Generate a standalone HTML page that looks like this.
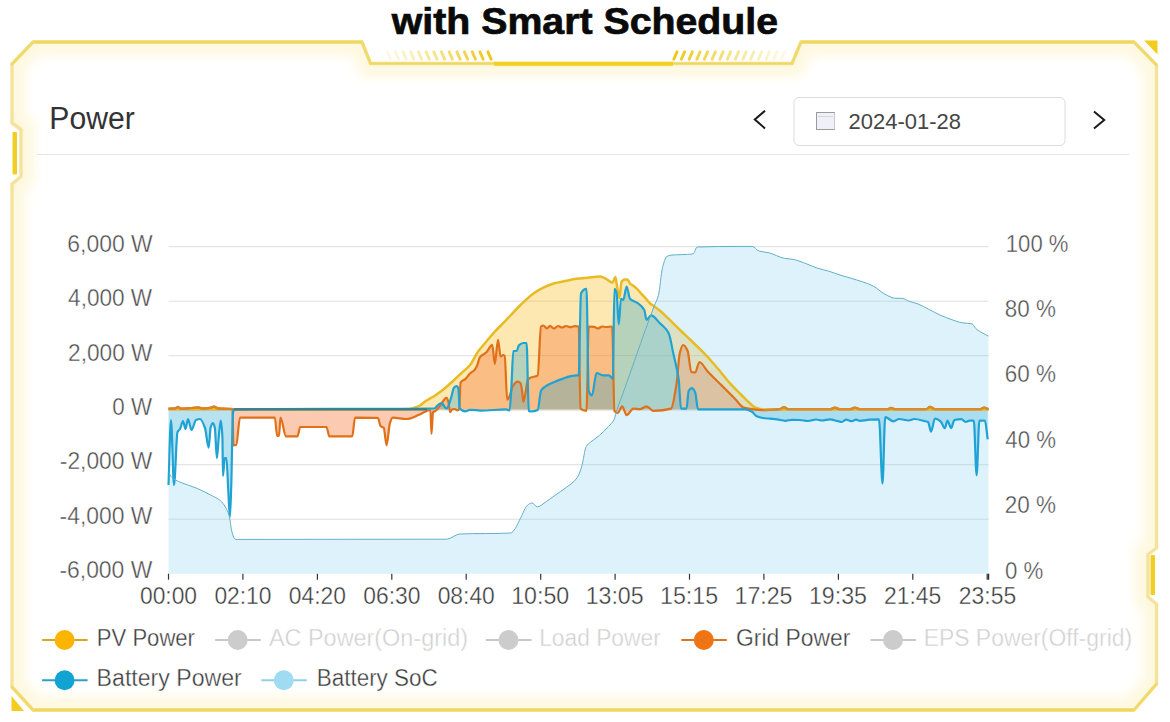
<!DOCTYPE html>
<html><head><meta charset="utf-8"><title>Power</title><style>
html,body{margin:0;padding:0;background:#fff;width:1170px;height:722px;overflow:hidden}
svg{display:block}
text{font-family:"Liberation Sans",sans-serif}
</style></head><body>
<svg width="1170" height="722" viewBox="0 0 1170 722">
<defs>
<clipPath id="fc"><path d="M33,42 L362,42 L370.5,63.5 L792,63.5 L801,42 L1134,42 L1156.5,65 L1156.5,548 L1148,554.5 L1148,597 L1156.5,604 L1156.5,684 L1134,710 L33,710 L12,687 L12,184 L21,176.5 L21,129.5 L12,123 L12,64 Z"/></clipPath>
<filter id="blur" x="-5%" y="-5%" width="110%" height="110%"><feGaussianBlur stdDeviation="5.5"/></filter>
<linearGradient id="lh" x1="0" x2="1"><stop offset="0" stop-color="#f3d22a" stop-opacity="0.05"/><stop offset="1" stop-color="#f0c814" stop-opacity="1"/></linearGradient>
<linearGradient id="rh" x1="0" x2="1"><stop offset="0" stop-color="#f0c814" stop-opacity="1"/><stop offset="1" stop-color="#f3d22a" stop-opacity="0.05"/></linearGradient>
</defs>
<g clip-path="url(#fc)"><path d="M33,42 L362,42 L370.5,63.5 L792,63.5 L801,42 L1134,42 L1156.5,65 L1156.5,548 L1148,554.5 L1148,597 L1156.5,604 L1156.5,684 L1134,710 L33,710 L12,687 L12,184 L21,176.5 L21,129.5 L12,123 L12,64 Z" fill="none" stroke="#fdf2c8" stroke-width="28" stroke-opacity="0.55" filter="url(#blur)"/></g>
<path d="M33,42 L362,42 L370.5,63.5 L792,63.5 L801,42 L1134,42 L1156.5,65 L1156.5,548 L1148,554.5 L1148,597 L1156.5,604 L1156.5,684 L1134,710 L33,710 L12,687 L12,184 L21,176.5 L21,129.5 L12,123 L12,64 Z" fill="none" stroke="#f5e39c" stroke-width="3.4" stroke-linejoin="round"/>
<path d="M33,42 L362,42 M801,42 L1134,42 M33,710 L1134,710" stroke="#efd75c" stroke-width="3.2" fill="none"/>
<path d="M370.5,63.5 L792,63.5" stroke="#f0d860" stroke-width="2.2" fill="none"/>
<path d="M362,42 L370.5,63.5 M792,63.5 L801,42 M33,42 L12,64 M1134,42 L1156.5,65 M1156.5,684 L1134,710 M33,710 L12,687" stroke="#f1da6c" stroke-width="2.8" fill="none" stroke-linecap="round"/>
<rect x="494" y="61.8" width="179" height="4" fill="#f4cf22"/>
<line x1="387.4" y1="51.8" x2="390.6" y2="59.2" stroke="#eec81e" stroke-opacity="0.12" stroke-width="2.9" stroke-linecap="round"/><line x1="395.4" y1="51.8" x2="398.6" y2="59.2" stroke="#eec81e" stroke-opacity="0.17" stroke-width="2.9" stroke-linecap="round"/><line x1="403.0" y1="51.8" x2="406.2" y2="59.2" stroke="#eec81e" stroke-opacity="0.23" stroke-width="2.9" stroke-linecap="round"/><line x1="410.7" y1="51.8" x2="413.9" y2="59.2" stroke="#eec81e" stroke-opacity="0.30" stroke-width="2.9" stroke-linecap="round"/><line x1="418.4" y1="51.8" x2="421.6" y2="59.2" stroke="#eec81e" stroke-opacity="0.36" stroke-width="2.9" stroke-linecap="round"/><line x1="426.1" y1="51.8" x2="429.3" y2="59.2" stroke="#eec81e" stroke-opacity="0.43" stroke-width="2.9" stroke-linecap="round"/><line x1="433.8" y1="51.8" x2="437.0" y2="59.2" stroke="#eec81e" stroke-opacity="0.50" stroke-width="2.9" stroke-linecap="round"/><line x1="441.4" y1="51.8" x2="444.6" y2="59.2" stroke="#eec81e" stroke-opacity="0.57" stroke-width="2.9" stroke-linecap="round"/><line x1="449.2" y1="51.8" x2="452.4" y2="59.2" stroke="#eec81e" stroke-opacity="0.64" stroke-width="2.9" stroke-linecap="round"/><line x1="456.9" y1="51.8" x2="460.1" y2="59.2" stroke="#eec81e" stroke-opacity="0.71" stroke-width="2.9" stroke-linecap="round"/><line x1="464.4" y1="51.8" x2="467.6" y2="59.2" stroke="#eec81e" stroke-opacity="0.78" stroke-width="2.9" stroke-linecap="round"/><line x1="472.2" y1="51.8" x2="475.4" y2="59.2" stroke="#eec81e" stroke-opacity="0.85" stroke-width="2.9" stroke-linecap="round"/><line x1="479.9" y1="51.8" x2="483.1" y2="59.2" stroke="#eec81e" stroke-opacity="0.93" stroke-width="2.9" stroke-linecap="round"/><line x1="487.9" y1="51.8" x2="491.1" y2="59.2" stroke="#eec81e" stroke-opacity="1.00" stroke-width="2.9" stroke-linecap="round"/><line x1="677.0" y1="51.8" x2="673.8" y2="59.2" stroke="#eec81e" stroke-opacity="1.00" stroke-width="2.9" stroke-linecap="round"/><line x1="684.6" y1="51.8" x2="681.4" y2="59.2" stroke="#eec81e" stroke-opacity="0.93" stroke-width="2.9" stroke-linecap="round"/><line x1="692.4" y1="51.8" x2="689.2" y2="59.2" stroke="#eec81e" stroke-opacity="0.86" stroke-width="2.9" stroke-linecap="round"/><line x1="700.1" y1="51.8" x2="696.9" y2="59.2" stroke="#eec81e" stroke-opacity="0.79" stroke-width="2.9" stroke-linecap="round"/><line x1="707.6" y1="51.8" x2="704.4" y2="59.2" stroke="#eec81e" stroke-opacity="0.73" stroke-width="2.9" stroke-linecap="round"/><line x1="715.4" y1="51.8" x2="712.2" y2="59.2" stroke="#eec81e" stroke-opacity="0.66" stroke-width="2.9" stroke-linecap="round"/><line x1="723.1" y1="51.8" x2="719.9" y2="59.2" stroke="#eec81e" stroke-opacity="0.60" stroke-width="2.9" stroke-linecap="round"/><line x1="730.6" y1="51.8" x2="727.4" y2="59.2" stroke="#eec81e" stroke-opacity="0.53" stroke-width="2.9" stroke-linecap="round"/><line x1="738.6" y1="51.8" x2="735.4" y2="59.2" stroke="#eec81e" stroke-opacity="0.47" stroke-width="2.9" stroke-linecap="round"/><line x1="746.2" y1="51.8" x2="743.0" y2="59.2" stroke="#eec81e" stroke-opacity="0.40" stroke-width="2.9" stroke-linecap="round"/><line x1="753.9" y1="51.8" x2="750.7" y2="59.2" stroke="#eec81e" stroke-opacity="0.34" stroke-width="2.9" stroke-linecap="round"/><line x1="761.6" y1="51.8" x2="758.4" y2="59.2" stroke="#eec81e" stroke-opacity="0.28" stroke-width="2.9" stroke-linecap="round"/><line x1="769.3" y1="51.8" x2="766.1" y2="59.2" stroke="#eec81e" stroke-opacity="0.22" stroke-width="2.9" stroke-linecap="round"/><line x1="777.0" y1="51.8" x2="773.8" y2="59.2" stroke="#eec81e" stroke-opacity="0.17" stroke-width="2.9" stroke-linecap="round"/><line x1="784.6" y1="51.8" x2="781.4" y2="59.2" stroke="#eec81e" stroke-opacity="0.12" stroke-width="2.9" stroke-linecap="round"/>
<rect x="12.5" y="132" width="4.5" height="42.5" rx="1" fill="#f2cd22"/>
<rect x="1150.5" y="555" width="4.5" height="40" rx="1" fill="#f2cd22"/>
<polygon points="1144,40.5 1157.5,40.5 1157.5,54.5" fill="#f4cc1e"/>
<polygon points="11.5,696 11.5,711 24,711" fill="#f4cc1e"/>
<line x1="37" y1="154.5" x2="1129" y2="154.5" stroke="#e4e4e4" stroke-width="1"/>
<polyline points="765,110.8 754.8,119.6 765,128.4" fill="none" stroke="#1a1a1a" stroke-width="2"/>
<polyline points="1094,111.5 1104.2,120 1094,128.4" fill="none" stroke="#1a1a1a" stroke-width="2"/>
<rect x="794" y="97.5" width="271" height="48" rx="5" fill="#fff" stroke="#dcdcdc" stroke-width="1"/>
<rect x="816.5" y="112.5" width="18" height="17" fill="#eef2f8" stroke="#9a9a9a" stroke-width="1"/>
<line x1="834.5" y1="112.5" x2="834.5" y2="129.5" stroke="#c8c8c8" stroke-width="1"/>
<line x1="818" y1="116.5" x2="833" y2="116.5" stroke="#d6d6d6" stroke-width="1"/>
<line x1="168.5" y1="246.7" x2="988.5" y2="246.7" stroke="#dedede" stroke-width="1"/>
<line x1="168.5" y1="301.2" x2="988.5" y2="301.2" stroke="#dedede" stroke-width="1"/>
<line x1="168.5" y1="355.7" x2="988.5" y2="355.7" stroke="#dedede" stroke-width="1"/>
<line x1="168.5" y1="410.2" x2="988.5" y2="410.2" stroke="#dedede" stroke-width="1"/>
<line x1="168.5" y1="464.7" x2="988.5" y2="464.7" stroke="#dedede" stroke-width="1"/>
<line x1="168.5" y1="519.2" x2="988.5" y2="519.2" stroke="#dedede" stroke-width="1"/>
<line x1="168.5" y1="573.7" x2="168.5" y2="579.7" stroke="#333" stroke-width="1.2"/>
<line x1="242.9" y1="573.7" x2="242.9" y2="579.7" stroke="#333" stroke-width="1.2"/>
<line x1="317.4" y1="573.7" x2="317.4" y2="579.7" stroke="#333" stroke-width="1.2"/>
<line x1="391.8" y1="573.7" x2="391.8" y2="579.7" stroke="#333" stroke-width="1.2"/>
<line x1="466.2" y1="573.7" x2="466.2" y2="579.7" stroke="#333" stroke-width="1.2"/>
<line x1="540.7" y1="573.7" x2="540.7" y2="579.7" stroke="#333" stroke-width="1.2"/>
<line x1="615.1" y1="573.7" x2="615.1" y2="579.7" stroke="#333" stroke-width="1.2"/>
<line x1="689.5" y1="573.7" x2="689.5" y2="579.7" stroke="#333" stroke-width="1.2"/>
<line x1="763.9" y1="573.7" x2="763.9" y2="579.7" stroke="#333" stroke-width="1.2"/>
<line x1="838.4" y1="573.7" x2="838.4" y2="579.7" stroke="#333" stroke-width="1.2"/>
<line x1="912.8" y1="573.7" x2="912.8" y2="579.7" stroke="#333" stroke-width="1.2"/>
<line x1="987.2" y1="573.7" x2="987.2" y2="579.7" stroke="#333" stroke-width="1.2"/>
<line x1="988.5" y1="573.7" x2="988.5" y2="579.7" stroke="#333" stroke-width="1.5"/>
<path d="M168.5,409.2 C248.67,409.20 328.83,409.20 409.0,409.2 C411.00,409.20 413.00,408.17 415.0,407.5 C416.67,406.94 418.33,406.39 420.0,405.5 C421.67,404.61 423.33,402.65 425.0,401.5 C428.00,399.43 431.00,398.15 434.0,396.2 C437.00,394.25 440.00,392.05 443.0,389.7 C446.00,387.35 449.00,384.69 452.0,382.0 C455.00,379.31 458.00,376.33 461.0,373.5 C464.00,370.67 467.00,368.63 470.0,365.0 C472.70,361.73 475.40,355.28 478.1,351.5 C480.87,347.63 483.63,344.80 486.4,341.5 C489.20,338.16 492.00,334.65 494.8,331.6 C497.53,328.62 500.27,326.11 503.0,323.3 C505.33,320.90 507.67,318.44 510.0,316.0 C513.33,312.51 516.67,308.76 520.0,305.5 C524.07,301.53 528.13,297.34 532.2,294.4 C535.90,291.72 539.60,289.48 543.3,287.7 C546.97,285.94 550.63,284.30 554.3,283.3 C558.00,282.29 561.70,281.75 565.4,281.0 C569.10,280.25 572.80,279.29 576.5,278.8 C580.20,278.31 583.90,278.05 587.6,277.7 C591.73,277.31 595.87,276.60 600.0,276.6 C601.40,276.60 602.80,277.32 604.2,277.9 C605.57,278.46 606.93,279.65 608.3,280.4 C609.70,281.17 611.10,282.50 612.5,282.5 C613.47,282.50 614.43,277.00 615.4,277.0 C615.80,277.00 616.20,281.17 616.6,283.3 C617.50,288.10 618.40,298.00 619.3,298.0 C620.07,298.00 620.83,282.50 621.6,281.6 C622.70,280.31 623.80,279.60 624.9,279.6 C625.73,279.60 626.57,279.60 627.4,279.6 C628.23,279.60 629.07,282.47 629.9,283.3 C631.03,284.43 632.17,284.93 633.3,285.8 C634.67,286.85 636.03,287.79 637.4,289.1 C638.80,290.44 640.20,292.56 641.6,294.1 C642.97,295.60 644.33,296.80 645.7,298.3 C647.10,299.84 648.50,302.03 649.9,303.3 C651.27,304.54 652.63,305.29 654.0,306.3 C656.00,307.78 658.00,309.15 660.0,310.8 C662.67,313.00 665.33,315.66 668.0,318.2 C672.00,322.01 676.00,326.14 680.0,330.0 C683.33,333.22 686.67,336.30 690.0,339.5 C693.33,342.70 696.67,345.86 700.0,349.2 C703.47,352.68 706.93,356.18 710.4,360.0 C713.87,363.82 717.33,368.08 720.8,372.2 C724.27,376.32 727.73,380.92 731.2,384.7 C734.63,388.45 738.07,391.57 741.5,395.0 C744.27,397.77 747.03,400.85 749.8,403.3 C751.53,404.84 753.27,406.80 755.0,407.5 C757.43,408.49 759.87,409.40 762.3,409.4 C837.70,409.40 913.10,409.40 988.5,409.4 L988.5,409.4 L168.5,409.4 Z" fill="#f8b400" fill-opacity="0.3"/>
<path d="M168.5,408.6 C170.67,408.53 172.83,408.54 175.0,408.4 C176.00,408.34 177.00,407.00 178.0,407.0 C179.00,407.00 180.00,408.60 181.0,408.6 C184.00,408.60 187.00,408.39 190.0,408.2 C192.67,408.03 195.33,407.30 198.0,407.3 C199.33,407.30 200.67,408.40 202.0,408.4 C204.67,408.40 207.33,408.14 210.0,407.8 C211.33,407.63 212.67,406.60 214.0,406.6 C215.33,406.60 216.67,408.28 218.0,408.4 C222.83,408.83 227.67,408.44 232.5,409.0 C232.83,409.04 233.17,445.50 233.5,445.5 C234.43,445.50 235.37,445.23 236.3,444.8 C237.53,444.23 238.77,417.60 240.0,417.6 C251.60,417.60 263.20,417.60 274.8,417.6 C275.60,417.60 276.40,436.00 277.2,436.0 C277.80,436.00 278.40,435.84 279.0,435.5 C279.50,435.22 280.00,417.60 280.5,417.6 C282.33,417.60 284.17,436.40 286.0,436.4 C289.80,436.40 293.60,436.40 297.4,436.4 C298.33,436.40 299.27,427.00 300.2,427.0 C308.97,427.00 317.73,427.00 326.5,427.0 C327.47,427.00 328.43,436.40 329.4,436.4 C337.03,436.40 344.67,436.40 352.3,436.4 C353.20,436.40 354.10,417.60 355.0,417.6 C362.67,417.60 370.33,417.64 378.0,418.0 C378.83,418.04 379.67,425.12 380.5,426.0 C381.60,427.16 382.70,426.76 383.8,428.0 C384.73,429.05 385.67,445.30 386.6,445.3 C387.70,445.30 388.80,426.54 389.9,423.2 C390.83,420.37 391.77,417.60 392.7,417.6 C397.40,417.60 402.10,419.00 406.8,419.0 C410.87,419.00 414.93,416.39 419.0,414.7 C421.00,413.87 423.00,412.67 425.0,411.8 C426.33,411.22 427.67,410.20 429.0,410.2 C429.47,410.20 429.93,410.26 430.4,410.4 C430.77,410.51 431.13,434.00 431.5,434.0 C432.00,434.00 432.50,412.37 433.0,412.0 C433.63,411.53 434.27,411.63 434.9,411.3 C436.10,410.68 437.30,409.09 438.5,407.7 C440.00,405.96 441.50,403.38 443.0,401.4 C443.90,400.21 444.80,398.30 445.7,398.0 C446.00,397.90 446.30,397.80 446.6,397.8 C447.20,397.80 447.80,400.02 448.4,402.0 C449.00,403.98 449.60,412.20 450.2,412.2 C450.80,412.20 451.40,409.71 452.0,409.5 C452.90,409.19 453.80,409.00 454.7,409.0 C455.60,409.00 456.50,410.40 457.4,410.4 C458.00,410.40 458.60,409.93 459.2,409.0 C459.67,408.27 460.13,383.30 460.6,382.5 C462.23,379.71 463.87,380.39 465.5,378.9 C467.00,377.53 468.50,374.94 470.0,373.5 C471.50,372.06 473.00,371.57 474.5,369.9 C475.40,368.90 476.30,367.36 477.2,365.4 C478.07,363.51 478.93,358.46 479.8,357.3 C482.00,354.36 484.20,354.39 486.4,352.3 C488.37,350.43 490.33,344.90 492.3,344.9 C493.13,344.90 493.97,364.00 494.8,364.0 C495.87,364.00 496.93,339.90 498.0,339.9 C498.87,339.90 499.73,356.50 500.6,356.5 C501.40,356.50 502.20,355.00 503.0,355.0 C503.57,355.00 504.13,355.39 504.7,356.0 C505.53,356.90 506.37,399.70 507.2,399.7 C508.00,399.70 508.80,397.62 509.6,396.0 C510.67,393.84 511.73,387.67 512.8,386.1 C514.43,383.70 516.07,381.60 517.7,381.6 C518.60,381.60 519.50,382.11 520.4,383.0 C521.00,383.59 521.60,387.60 522.2,391.5 C522.57,393.88 522.93,402.00 523.3,402.0 C524.03,402.00 524.77,396.58 525.5,393.0 C526.23,389.42 526.97,380.63 527.7,379.7 C528.80,378.30 529.90,378.00 531.0,377.5 C533.23,376.48 535.47,376.91 537.7,375.3 C538.80,374.51 539.90,327.38 541.0,326.5 C541.77,325.89 542.53,325.50 543.3,325.5 C544.53,325.50 545.77,328.50 547.0,328.5 C548.00,328.50 549.00,325.80 550.0,325.8 C551.33,325.80 552.67,328.50 554.0,328.5 C555.33,328.50 556.67,326.00 558.0,326.0 C559.33,326.00 560.67,327.50 562.0,327.5 C563.33,327.50 564.67,326.00 566.0,326.0 C567.33,326.00 568.67,327.20 570.0,327.2 C571.67,327.20 573.33,326.20 575.0,326.2 C576.23,326.20 577.47,326.27 578.7,326.5 C579.30,326.61 579.90,408.07 580.5,408.6 C582.50,410.37 584.50,410.80 586.5,410.8 C587.23,410.80 587.97,326.50 588.7,326.5 C590.47,326.50 592.23,326.62 594.0,326.8 C595.33,326.94 596.67,328.50 598.0,328.5 C599.33,328.50 600.67,326.50 602.0,326.5 C603.33,326.50 604.67,327.00 606.0,327.0 C608.07,327.00 610.13,326.50 612.2,326.5 C612.93,326.50 613.67,409.77 614.4,410.8 C615.50,412.34 616.60,413.00 617.7,413.0 C619.20,413.00 620.70,406.30 622.2,406.3 C623.67,406.30 625.13,415.20 626.6,415.2 C628.83,415.20 631.07,408.60 633.3,408.6 C635.53,408.60 637.77,409.20 640.0,409.2 C642.20,409.20 644.40,406.30 646.6,406.3 C648.80,406.30 651.00,410.80 653.2,410.8 C659.13,410.80 665.07,410.31 671.0,408.6 C672.83,408.07 674.67,395.62 676.5,384.2 C677.60,377.35 678.70,357.24 679.8,353.0 C680.90,348.76 682.00,345.00 683.1,345.0 C684.60,345.00 686.10,347.58 687.6,350.8 C688.83,353.45 690.07,371.69 691.3,372.0 C692.60,372.33 693.90,372.50 695.2,372.5 C696.60,372.50 698.00,362.00 699.4,362.0 C702.17,362.00 704.93,368.62 707.7,371.6 C712.33,376.58 716.97,380.77 721.6,385.4 C726.20,390.00 730.80,394.68 735.4,399.3 C738.17,402.08 740.93,406.71 743.7,407.6 C746.47,408.49 749.23,408.85 752.0,409.2 C755.67,409.66 759.33,410.20 763.0,410.2 C768.67,410.20 774.33,409.91 780.0,409.2 C781.33,409.03 782.67,407.20 784.0,407.2 C785.33,407.20 786.67,409.20 788.0,409.2 C802.00,409.20 816.00,409.20 830.0,409.2 C831.67,409.20 833.33,407.60 835.0,407.6 C836.67,407.60 838.33,409.20 840.0,409.2 C843.33,409.20 846.67,409.20 850.0,409.2 C851.67,409.20 853.33,407.60 855.0,407.6 C856.67,407.60 858.33,409.20 860.0,409.2 C869.33,409.20 878.67,409.20 888.0,409.2 C889.00,409.20 890.00,407.80 891.0,407.8 C892.33,407.80 893.67,409.20 895.0,409.2 C905.33,409.20 915.67,409.20 926.0,409.2 C927.33,409.20 928.67,406.80 930.0,406.8 C931.67,406.80 933.33,409.20 935.0,409.2 C950.00,409.20 965.00,409.20 980.0,409.2 C981.33,409.20 982.67,407.60 984.0,407.6 C985.50,407.60 987.00,408.67 988.5,409.2 L988.5,409.4 L168.5,409.4 Z" fill="#f58045" fill-opacity="0.42"/>
<path d="M168.5,485.0 C169.33,463.33 170.17,420.00 171.0,420.0 C172.00,420.00 173.00,485.00 174.0,485.0 C175.17,485.00 176.33,434.48 177.5,432.0 C178.33,430.23 179.17,430.36 180.0,429.0 C181.00,427.36 182.00,421.00 183.0,421.0 C183.83,421.00 184.67,429.00 185.5,429.0 C186.33,429.00 187.17,419.00 188.0,419.0 C189.17,419.00 190.33,430.00 191.5,430.0 C193.00,430.00 194.50,420.66 196.0,420.0 C197.33,419.41 198.67,419.00 200.0,419.0 C201.67,419.00 203.33,423.41 205.0,428.0 C206.23,431.40 207.47,447.60 208.7,447.6 C209.33,447.60 209.97,429.78 210.6,427.6 C211.37,424.97 212.13,423.00 212.9,423.0 C213.53,423.00 214.17,425.00 214.8,427.6 C215.50,430.47 216.20,458.20 216.9,458.2 C217.53,458.20 218.17,443.16 218.8,437.0 C219.43,430.84 220.07,420.60 220.7,420.6 C221.27,420.60 221.83,426.21 222.4,437.0 C222.60,440.81 222.80,475.90 223.0,475.9 C223.57,475.90 224.13,458.20 224.7,458.2 C225.27,458.20 225.83,458.20 226.4,458.2 C227.00,458.20 227.60,478.73 228.2,488.8 C228.77,498.31 229.33,517.00 229.9,517.0 C230.37,517.00 230.83,498.24 231.3,484.0 C231.83,467.73 232.37,416.75 232.9,413.5 C233.30,411.06 233.70,409.41 234.1,409.4 C300.73,408.51 367.37,409.37 434.0,408.5 C435.50,408.48 437.00,405.39 438.5,404.6 C439.70,403.96 440.90,403.20 442.1,403.2 C442.40,403.20 442.70,404.11 443.0,404.5 C444.20,406.07 445.40,408.60 446.6,408.6 C448.10,408.60 449.60,402.23 451.1,397.8 C452.00,395.14 452.90,388.92 453.8,387.9 C454.70,386.88 455.60,386.10 456.5,386.1 C457.10,386.10 457.70,386.73 458.3,387.9 C458.77,388.81 459.23,408.08 459.7,408.6 C461.63,410.76 463.57,411.30 465.5,411.3 C467.00,411.30 468.50,409.80 470.0,409.8 C473.60,409.80 477.20,410.60 480.8,410.6 C489.20,410.60 497.60,409.40 506.0,409.4 C507.20,409.40 508.40,410.40 509.6,410.4 C510.20,410.40 510.80,396.24 511.4,387.0 C512.03,377.25 512.67,351.00 513.3,351.0 C514.43,351.00 515.57,351.00 516.7,351.0 C517.43,351.00 518.17,346.11 518.9,345.4 C520.37,343.98 521.83,343.00 523.3,343.0 C524.40,343.00 525.50,343.00 526.6,343.0 C527.33,343.00 528.07,410.34 528.8,410.8 C529.53,411.26 530.27,411.50 531.0,411.5 C533.23,411.50 535.47,411.08 537.7,410.0 C538.80,409.47 539.90,392.71 541.0,390.8 C542.50,388.19 544.00,387.43 545.5,386.4 C548.43,384.39 551.37,383.27 554.3,382.0 C557.27,380.71 560.23,379.64 563.2,378.6 C565.43,377.81 567.67,376.89 569.9,376.4 C572.10,375.91 574.30,375.30 576.5,375.3 C577.23,375.30 577.97,375.30 578.7,375.3 C579.47,375.30 580.23,294.71 581.0,293.3 C582.83,289.93 584.67,288.80 586.5,288.8 C587.23,288.80 587.97,388.73 588.7,390.8 C589.80,393.91 590.90,395.30 592.0,395.3 C593.50,395.30 595.00,373.00 596.5,373.0 C598.67,373.00 600.83,375.30 603.0,375.3 C604.97,375.30 606.93,375.30 608.9,375.3 C610.23,375.30 611.57,378.60 612.9,378.6 C613.40,378.60 613.90,288.80 614.4,288.8 C615.13,288.80 615.87,290.68 616.6,293.3 C617.33,295.92 618.07,324.30 618.8,324.3 C619.53,324.30 620.27,298.80 621.0,298.8 C621.77,298.80 622.53,299.90 623.3,299.9 C624.40,299.90 625.50,286.60 626.6,286.6 C627.73,286.60 628.87,297.57 630.0,298.8 C632.57,301.59 635.13,301.30 637.7,303.2 C639.90,304.83 642.10,305.94 644.3,310.0 C645.07,311.41 645.83,319.90 646.6,319.9 C648.07,319.90 649.53,315.40 651.0,315.4 C653.97,315.40 656.93,320.26 659.9,323.2 C662.83,326.10 665.77,327.54 668.7,333.2 C670.20,336.09 671.70,346.09 673.2,353.0 C675.03,361.45 676.87,366.03 678.7,379.7 C679.47,385.42 680.23,408.60 681.0,408.6 C682.83,408.60 684.67,408.60 686.5,408.6 C687.23,408.60 687.97,391.97 688.7,390.8 C689.73,389.15 690.77,388.20 691.8,388.2 C692.93,388.20 694.07,390.02 695.2,392.4 C696.13,394.36 697.07,409.40 698.0,409.4 C713.70,409.40 729.40,409.40 745.1,409.4 C747.40,409.40 749.70,410.56 752.0,411.8 C753.40,412.55 754.80,415.34 756.2,416.0 C758.50,417.08 760.80,417.65 763.1,418.0 C765.40,418.35 767.70,418.47 770.0,418.7 C772.33,418.94 774.67,419.11 777.0,419.4 C779.77,419.74 782.53,420.80 785.3,420.8 C787.53,420.80 789.77,419.80 792.0,419.8 C794.67,419.80 797.33,419.89 800.0,420.0 C802.67,420.11 805.33,421.00 808.0,421.0 C810.67,421.00 813.33,419.50 816.0,419.5 C818.00,419.50 820.00,420.50 822.0,420.5 C824.67,420.50 827.33,419.40 830.0,419.4 C832.67,419.40 835.33,420.64 838.0,421.2 C839.33,421.48 840.67,422.00 842.0,422.0 C843.33,422.00 844.67,419.60 846.0,419.6 C848.00,419.60 850.00,421.20 852.0,421.2 C853.33,421.20 854.67,419.60 856.0,419.6 C857.33,419.60 858.67,420.80 860.0,420.8 C862.00,420.80 864.00,420.44 866.0,420.2 C867.33,420.04 868.67,419.66 870.0,419.6 C873.00,419.47 876.00,419.40 879.0,419.4 C880.17,419.40 881.33,483.60 882.5,483.6 C883.40,483.60 884.30,417.20 885.2,417.2 C887.97,417.20 890.73,421.30 893.5,421.3 C895.33,421.30 897.17,419.00 899.0,419.0 C902.27,419.00 905.53,420.50 908.8,420.5 C910.63,420.50 912.47,419.00 914.3,419.0 C918.00,419.00 921.70,420.43 925.4,421.3 C926.30,421.51 927.20,421.57 928.1,422.0 C929.07,422.46 930.03,431.70 931.0,431.7 C932.33,431.70 933.67,418.50 935.0,418.5 C936.87,418.50 938.73,419.83 940.6,421.3 C942.00,422.40 943.40,428.20 944.8,428.2 C945.70,428.20 946.60,420.60 947.5,420.6 C947.97,420.60 948.43,422.41 948.9,423.4 C949.60,424.89 950.30,428.20 951.0,428.2 C952.17,428.20 953.33,420.29 954.5,420.0 C956.80,419.44 959.10,419.20 961.4,419.2 C962.77,419.20 964.13,422.00 965.5,422.0 C966.90,422.00 968.30,420.60 969.7,420.6 C971.07,420.60 972.43,420.60 973.8,420.6 C974.73,420.60 975.67,475.30 976.6,475.3 C977.53,475.30 978.47,420.60 979.4,420.6 C981.23,420.60 983.07,420.60 984.9,420.6 C985.83,420.60 986.77,433.07 987.7,439.3 L987.7,409.4 L168.5,409.4 Z" fill="#17a0d2" fill-opacity="0.3"/>
<path d="M168.5,472.5 C169.67,474.17 170.83,476.37 172.0,477.5 C173.13,478.60 174.27,479.38 175.4,480.0 C179.67,482.34 183.93,483.44 188.2,485.1 C191.63,486.43 195.07,487.53 198.5,489.0 C202.77,490.83 207.03,493.13 211.3,495.4 C214.30,497.00 217.30,498.06 220.3,500.5 C222.00,501.88 223.70,504.15 225.4,507.0 C226.67,509.12 227.93,511.53 229.2,515.9 C230.07,518.89 230.93,528.03 231.8,531.3 C232.67,534.57 233.53,537.73 234.4,538.5 C234.93,538.97 235.47,539.40 236.0,539.4 C306.17,539.40 376.33,539.39 446.5,539.2 C450.93,539.19 455.37,534.20 459.8,534.0 C476.80,533.23 493.80,533.90 510.8,533.0 C512.27,532.92 513.73,530.45 515.2,528.5 C517.07,526.02 518.93,521.06 520.8,517.5 C523.00,513.31 525.20,507.00 527.4,505.3 C528.90,504.14 530.40,503.00 531.9,503.0 C533.73,503.00 535.57,506.80 537.4,506.8 C540.37,506.80 543.33,503.42 546.3,501.5 C549.23,499.61 552.17,497.36 555.1,495.3 C558.80,492.70 562.50,490.41 566.2,487.5 C569.90,484.59 573.60,482.84 577.3,477.6 C578.77,475.52 580.23,471.22 581.7,466.5 C583.20,461.68 584.70,448.94 586.2,446.5 C587.67,444.11 589.13,443.38 590.6,442.1 C593.53,439.55 596.47,438.01 599.4,435.5 C602.37,432.96 605.33,429.83 608.3,426.6 C610.17,424.57 612.03,423.40 613.9,420.0 C615.00,418.00 616.10,412.05 617.2,408.9 C617.53,407.94 617.87,407.19 618.2,406.3 C630.13,374.54 642.07,337.70 654.0,306.5 C655.47,302.67 656.93,300.82 658.4,295.4 C659.77,290.35 661.13,272.90 662.5,267.7 C663.90,262.37 665.30,257.44 666.7,256.6 C668.07,255.78 669.43,255.36 670.8,255.2 C678.20,254.32 685.60,254.96 693.0,253.9 C694.40,253.70 695.80,247.05 697.2,247.0 C711.47,246.46 725.73,246.40 740.0,246.4 C744.07,246.40 748.13,246.40 752.2,246.4 C754.43,246.40 756.67,250.34 758.9,251.0 C762.23,251.99 765.57,252.02 768.9,252.8 C774.07,254.01 779.23,257.39 784.4,258.3 C787.37,258.82 790.33,258.88 793.3,259.4 C797.77,260.18 802.23,262.27 806.7,263.9 C810.40,265.25 814.10,267.13 817.8,268.3 C821.50,269.47 825.20,270.10 828.9,271.2 C832.60,272.30 836.30,273.82 840.0,275.0 C843.70,276.18 847.40,277.18 851.1,278.3 C854.80,279.42 858.50,280.42 862.2,281.7 C865.90,282.98 869.60,284.22 873.3,286.1 C877.00,287.98 880.70,292.03 884.4,293.9 C888.13,295.78 891.87,298.30 895.6,298.3 C897.80,298.30 900.00,298.30 902.2,298.3 C904.43,298.30 906.67,300.40 908.9,301.2 C911.87,302.27 914.83,302.79 917.8,303.9 C921.50,305.28 925.20,307.55 928.9,309.4 C932.60,311.25 936.30,313.36 940.0,315.0 C943.70,316.64 947.40,318.12 951.1,319.4 C954.80,320.68 958.50,322.21 962.2,322.8 C965.53,323.34 968.87,323.12 972.2,323.9 C973.33,324.17 974.47,327.25 975.6,328.3 C977.80,330.33 980.00,331.50 982.2,332.8 C984.30,334.04 986.40,335.00 988.5,336.1 L988.5,573.7 L168.5,573.7 Z" fill="#87d2f0" fill-opacity="0.28"/>
<path d="M168.5,409.2 C248.67,409.20 328.83,409.20 409.0,409.2 C411.00,409.20 413.00,408.17 415.0,407.5 C416.67,406.94 418.33,406.39 420.0,405.5 C421.67,404.61 423.33,402.65 425.0,401.5 C428.00,399.43 431.00,398.15 434.0,396.2 C437.00,394.25 440.00,392.05 443.0,389.7 C446.00,387.35 449.00,384.69 452.0,382.0 C455.00,379.31 458.00,376.33 461.0,373.5 C464.00,370.67 467.00,368.63 470.0,365.0 C472.70,361.73 475.40,355.28 478.1,351.5 C480.87,347.63 483.63,344.80 486.4,341.5 C489.20,338.16 492.00,334.65 494.8,331.6 C497.53,328.62 500.27,326.11 503.0,323.3 C505.33,320.90 507.67,318.44 510.0,316.0 C513.33,312.51 516.67,308.76 520.0,305.5 C524.07,301.53 528.13,297.34 532.2,294.4 C535.90,291.72 539.60,289.48 543.3,287.7 C546.97,285.94 550.63,284.30 554.3,283.3 C558.00,282.29 561.70,281.75 565.4,281.0 C569.10,280.25 572.80,279.29 576.5,278.8 C580.20,278.31 583.90,278.05 587.6,277.7 C591.73,277.31 595.87,276.60 600.0,276.6 C601.40,276.60 602.80,277.32 604.2,277.9 C605.57,278.46 606.93,279.65 608.3,280.4 C609.70,281.17 611.10,282.50 612.5,282.5 C613.47,282.50 614.43,277.00 615.4,277.0 C615.80,277.00 616.20,281.17 616.6,283.3 C617.50,288.10 618.40,298.00 619.3,298.0 C620.07,298.00 620.83,282.50 621.6,281.6 C622.70,280.31 623.80,279.60 624.9,279.6 C625.73,279.60 626.57,279.60 627.4,279.6 C628.23,279.60 629.07,282.47 629.9,283.3 C631.03,284.43 632.17,284.93 633.3,285.8 C634.67,286.85 636.03,287.79 637.4,289.1 C638.80,290.44 640.20,292.56 641.6,294.1 C642.97,295.60 644.33,296.80 645.7,298.3 C647.10,299.84 648.50,302.03 649.9,303.3 C651.27,304.54 652.63,305.29 654.0,306.3 C656.00,307.78 658.00,309.15 660.0,310.8 C662.67,313.00 665.33,315.66 668.0,318.2 C672.00,322.01 676.00,326.14 680.0,330.0 C683.33,333.22 686.67,336.30 690.0,339.5 C693.33,342.70 696.67,345.86 700.0,349.2 C703.47,352.68 706.93,356.18 710.4,360.0 C713.87,363.82 717.33,368.08 720.8,372.2 C724.27,376.32 727.73,380.92 731.2,384.7 C734.63,388.45 738.07,391.57 741.5,395.0 C744.27,397.77 747.03,400.85 749.8,403.3 C751.53,404.84 753.27,406.80 755.0,407.5 C757.43,408.49 759.87,409.40 762.3,409.4 C837.70,409.40 913.10,409.40 988.5,409.4" fill="none" stroke="#e8bb24" stroke-width="2.5" stroke-linejoin="round"/>
<path d="M168.5,408.6 C170.67,408.53 172.83,408.54 175.0,408.4 C176.00,408.34 177.00,407.00 178.0,407.0 C179.00,407.00 180.00,408.60 181.0,408.6 C184.00,408.60 187.00,408.39 190.0,408.2 C192.67,408.03 195.33,407.30 198.0,407.3 C199.33,407.30 200.67,408.40 202.0,408.4 C204.67,408.40 207.33,408.14 210.0,407.8 C211.33,407.63 212.67,406.60 214.0,406.6 C215.33,406.60 216.67,408.28 218.0,408.4 C222.83,408.83 227.67,408.44 232.5,409.0 C232.83,409.04 233.17,445.50 233.5,445.5 C234.43,445.50 235.37,445.23 236.3,444.8 C237.53,444.23 238.77,417.60 240.0,417.6 C251.60,417.60 263.20,417.60 274.8,417.6 C275.60,417.60 276.40,436.00 277.2,436.0 C277.80,436.00 278.40,435.84 279.0,435.5 C279.50,435.22 280.00,417.60 280.5,417.6 C282.33,417.60 284.17,436.40 286.0,436.4 C289.80,436.40 293.60,436.40 297.4,436.4 C298.33,436.40 299.27,427.00 300.2,427.0 C308.97,427.00 317.73,427.00 326.5,427.0 C327.47,427.00 328.43,436.40 329.4,436.4 C337.03,436.40 344.67,436.40 352.3,436.4 C353.20,436.40 354.10,417.60 355.0,417.6 C362.67,417.60 370.33,417.64 378.0,418.0 C378.83,418.04 379.67,425.12 380.5,426.0 C381.60,427.16 382.70,426.76 383.8,428.0 C384.73,429.05 385.67,445.30 386.6,445.3 C387.70,445.30 388.80,426.54 389.9,423.2 C390.83,420.37 391.77,417.60 392.7,417.6 C397.40,417.60 402.10,419.00 406.8,419.0 C410.87,419.00 414.93,416.39 419.0,414.7 C421.00,413.87 423.00,412.67 425.0,411.8 C426.33,411.22 427.67,410.20 429.0,410.2 C429.47,410.20 429.93,410.26 430.4,410.4 C430.77,410.51 431.13,434.00 431.5,434.0 C432.00,434.00 432.50,412.37 433.0,412.0 C433.63,411.53 434.27,411.63 434.9,411.3 C436.10,410.68 437.30,409.09 438.5,407.7 C440.00,405.96 441.50,403.38 443.0,401.4 C443.90,400.21 444.80,398.30 445.7,398.0 C446.00,397.90 446.30,397.80 446.6,397.8 C447.20,397.80 447.80,400.02 448.4,402.0 C449.00,403.98 449.60,412.20 450.2,412.2 C450.80,412.20 451.40,409.71 452.0,409.5 C452.90,409.19 453.80,409.00 454.7,409.0 C455.60,409.00 456.50,410.40 457.4,410.4 C458.00,410.40 458.60,409.93 459.2,409.0 C459.67,408.27 460.13,383.30 460.6,382.5 C462.23,379.71 463.87,380.39 465.5,378.9 C467.00,377.53 468.50,374.94 470.0,373.5 C471.50,372.06 473.00,371.57 474.5,369.9 C475.40,368.90 476.30,367.36 477.2,365.4 C478.07,363.51 478.93,358.46 479.8,357.3 C482.00,354.36 484.20,354.39 486.4,352.3 C488.37,350.43 490.33,344.90 492.3,344.9 C493.13,344.90 493.97,364.00 494.8,364.0 C495.87,364.00 496.93,339.90 498.0,339.9 C498.87,339.90 499.73,356.50 500.6,356.5 C501.40,356.50 502.20,355.00 503.0,355.0 C503.57,355.00 504.13,355.39 504.7,356.0 C505.53,356.90 506.37,399.70 507.2,399.7 C508.00,399.70 508.80,397.62 509.6,396.0 C510.67,393.84 511.73,387.67 512.8,386.1 C514.43,383.70 516.07,381.60 517.7,381.6 C518.60,381.60 519.50,382.11 520.4,383.0 C521.00,383.59 521.60,387.60 522.2,391.5 C522.57,393.88 522.93,402.00 523.3,402.0 C524.03,402.00 524.77,396.58 525.5,393.0 C526.23,389.42 526.97,380.63 527.7,379.7 C528.80,378.30 529.90,378.00 531.0,377.5 C533.23,376.48 535.47,376.91 537.7,375.3 C538.80,374.51 539.90,327.38 541.0,326.5 C541.77,325.89 542.53,325.50 543.3,325.5 C544.53,325.50 545.77,328.50 547.0,328.5 C548.00,328.50 549.00,325.80 550.0,325.8 C551.33,325.80 552.67,328.50 554.0,328.5 C555.33,328.50 556.67,326.00 558.0,326.0 C559.33,326.00 560.67,327.50 562.0,327.5 C563.33,327.50 564.67,326.00 566.0,326.0 C567.33,326.00 568.67,327.20 570.0,327.2 C571.67,327.20 573.33,326.20 575.0,326.2 C576.23,326.20 577.47,326.27 578.7,326.5 C579.30,326.61 579.90,408.07 580.5,408.6 C582.50,410.37 584.50,410.80 586.5,410.8 C587.23,410.80 587.97,326.50 588.7,326.5 C590.47,326.50 592.23,326.62 594.0,326.8 C595.33,326.94 596.67,328.50 598.0,328.5 C599.33,328.50 600.67,326.50 602.0,326.5 C603.33,326.50 604.67,327.00 606.0,327.0 C608.07,327.00 610.13,326.50 612.2,326.5 C612.93,326.50 613.67,409.77 614.4,410.8 C615.50,412.34 616.60,413.00 617.7,413.0 C619.20,413.00 620.70,406.30 622.2,406.3 C623.67,406.30 625.13,415.20 626.6,415.2 C628.83,415.20 631.07,408.60 633.3,408.6 C635.53,408.60 637.77,409.20 640.0,409.2 C642.20,409.20 644.40,406.30 646.6,406.3 C648.80,406.30 651.00,410.80 653.2,410.8 C659.13,410.80 665.07,410.31 671.0,408.6 C672.83,408.07 674.67,395.62 676.5,384.2 C677.60,377.35 678.70,357.24 679.8,353.0 C680.90,348.76 682.00,345.00 683.1,345.0 C684.60,345.00 686.10,347.58 687.6,350.8 C688.83,353.45 690.07,371.69 691.3,372.0 C692.60,372.33 693.90,372.50 695.2,372.5 C696.60,372.50 698.00,362.00 699.4,362.0 C702.17,362.00 704.93,368.62 707.7,371.6 C712.33,376.58 716.97,380.77 721.6,385.4 C726.20,390.00 730.80,394.68 735.4,399.3 C738.17,402.08 740.93,406.71 743.7,407.6 C746.47,408.49 749.23,408.85 752.0,409.2 C755.67,409.66 759.33,410.20 763.0,410.2 C768.67,410.20 774.33,409.91 780.0,409.2 C781.33,409.03 782.67,407.20 784.0,407.2 C785.33,407.20 786.67,409.20 788.0,409.2 C802.00,409.20 816.00,409.20 830.0,409.2 C831.67,409.20 833.33,407.60 835.0,407.6 C836.67,407.60 838.33,409.20 840.0,409.2 C843.33,409.20 846.67,409.20 850.0,409.2 C851.67,409.20 853.33,407.60 855.0,407.6 C856.67,407.60 858.33,409.20 860.0,409.2 C869.33,409.20 878.67,409.20 888.0,409.2 C889.00,409.20 890.00,407.80 891.0,407.8 C892.33,407.80 893.67,409.20 895.0,409.2 C905.33,409.20 915.67,409.20 926.0,409.2 C927.33,409.20 928.67,406.80 930.0,406.8 C931.67,406.80 933.33,409.20 935.0,409.2 C950.00,409.20 965.00,409.20 980.0,409.2 C981.33,409.20 982.67,407.60 984.0,407.6 C985.50,407.60 987.00,408.67 988.5,409.2" fill="none" stroke="#e0701a" stroke-width="2.2" stroke-linejoin="round"/>
<path d="M168.5,485.0 C169.33,463.33 170.17,420.00 171.0,420.0 C172.00,420.00 173.00,485.00 174.0,485.0 C175.17,485.00 176.33,434.48 177.5,432.0 C178.33,430.23 179.17,430.36 180.0,429.0 C181.00,427.36 182.00,421.00 183.0,421.0 C183.83,421.00 184.67,429.00 185.5,429.0 C186.33,429.00 187.17,419.00 188.0,419.0 C189.17,419.00 190.33,430.00 191.5,430.0 C193.00,430.00 194.50,420.66 196.0,420.0 C197.33,419.41 198.67,419.00 200.0,419.0 C201.67,419.00 203.33,423.41 205.0,428.0 C206.23,431.40 207.47,447.60 208.7,447.6 C209.33,447.60 209.97,429.78 210.6,427.6 C211.37,424.97 212.13,423.00 212.9,423.0 C213.53,423.00 214.17,425.00 214.8,427.6 C215.50,430.47 216.20,458.20 216.9,458.2 C217.53,458.20 218.17,443.16 218.8,437.0 C219.43,430.84 220.07,420.60 220.7,420.6 C221.27,420.60 221.83,426.21 222.4,437.0 C222.60,440.81 222.80,475.90 223.0,475.9 C223.57,475.90 224.13,458.20 224.7,458.2 C225.27,458.20 225.83,458.20 226.4,458.2 C227.00,458.20 227.60,478.73 228.2,488.8 C228.77,498.31 229.33,517.00 229.9,517.0 C230.37,517.00 230.83,498.24 231.3,484.0 C231.83,467.73 232.37,416.75 232.9,413.5 C233.30,411.06 233.70,409.41 234.1,409.4 C300.73,408.51 367.37,409.37 434.0,408.5 C435.50,408.48 437.00,405.39 438.5,404.6 C439.70,403.96 440.90,403.20 442.1,403.2 C442.40,403.20 442.70,404.11 443.0,404.5 C444.20,406.07 445.40,408.60 446.6,408.6 C448.10,408.60 449.60,402.23 451.1,397.8 C452.00,395.14 452.90,388.92 453.8,387.9 C454.70,386.88 455.60,386.10 456.5,386.1 C457.10,386.10 457.70,386.73 458.3,387.9 C458.77,388.81 459.23,408.08 459.7,408.6 C461.63,410.76 463.57,411.30 465.5,411.3 C467.00,411.30 468.50,409.80 470.0,409.8 C473.60,409.80 477.20,410.60 480.8,410.6 C489.20,410.60 497.60,409.40 506.0,409.4 C507.20,409.40 508.40,410.40 509.6,410.4 C510.20,410.40 510.80,396.24 511.4,387.0 C512.03,377.25 512.67,351.00 513.3,351.0 C514.43,351.00 515.57,351.00 516.7,351.0 C517.43,351.00 518.17,346.11 518.9,345.4 C520.37,343.98 521.83,343.00 523.3,343.0 C524.40,343.00 525.50,343.00 526.6,343.0 C527.33,343.00 528.07,410.34 528.8,410.8 C529.53,411.26 530.27,411.50 531.0,411.5 C533.23,411.50 535.47,411.08 537.7,410.0 C538.80,409.47 539.90,392.71 541.0,390.8 C542.50,388.19 544.00,387.43 545.5,386.4 C548.43,384.39 551.37,383.27 554.3,382.0 C557.27,380.71 560.23,379.64 563.2,378.6 C565.43,377.81 567.67,376.89 569.9,376.4 C572.10,375.91 574.30,375.30 576.5,375.3 C577.23,375.30 577.97,375.30 578.7,375.3 C579.47,375.30 580.23,294.71 581.0,293.3 C582.83,289.93 584.67,288.80 586.5,288.8 C587.23,288.80 587.97,388.73 588.7,390.8 C589.80,393.91 590.90,395.30 592.0,395.3 C593.50,395.30 595.00,373.00 596.5,373.0 C598.67,373.00 600.83,375.30 603.0,375.3 C604.97,375.30 606.93,375.30 608.9,375.3 C610.23,375.30 611.57,378.60 612.9,378.6 C613.40,378.60 613.90,288.80 614.4,288.8 C615.13,288.80 615.87,290.68 616.6,293.3 C617.33,295.92 618.07,324.30 618.8,324.3 C619.53,324.30 620.27,298.80 621.0,298.8 C621.77,298.80 622.53,299.90 623.3,299.9 C624.40,299.90 625.50,286.60 626.6,286.6 C627.73,286.60 628.87,297.57 630.0,298.8 C632.57,301.59 635.13,301.30 637.7,303.2 C639.90,304.83 642.10,305.94 644.3,310.0 C645.07,311.41 645.83,319.90 646.6,319.9 C648.07,319.90 649.53,315.40 651.0,315.4 C653.97,315.40 656.93,320.26 659.9,323.2 C662.83,326.10 665.77,327.54 668.7,333.2 C670.20,336.09 671.70,346.09 673.2,353.0 C675.03,361.45 676.87,366.03 678.7,379.7 C679.47,385.42 680.23,408.60 681.0,408.6 C682.83,408.60 684.67,408.60 686.5,408.6 C687.23,408.60 687.97,391.97 688.7,390.8 C689.73,389.15 690.77,388.20 691.8,388.2 C692.93,388.20 694.07,390.02 695.2,392.4 C696.13,394.36 697.07,409.40 698.0,409.4 C713.70,409.40 729.40,409.40 745.1,409.4 C747.40,409.40 749.70,410.56 752.0,411.8 C753.40,412.55 754.80,415.34 756.2,416.0 C758.50,417.08 760.80,417.65 763.1,418.0 C765.40,418.35 767.70,418.47 770.0,418.7 C772.33,418.94 774.67,419.11 777.0,419.4 C779.77,419.74 782.53,420.80 785.3,420.8 C787.53,420.80 789.77,419.80 792.0,419.8 C794.67,419.80 797.33,419.89 800.0,420.0 C802.67,420.11 805.33,421.00 808.0,421.0 C810.67,421.00 813.33,419.50 816.0,419.5 C818.00,419.50 820.00,420.50 822.0,420.5 C824.67,420.50 827.33,419.40 830.0,419.4 C832.67,419.40 835.33,420.64 838.0,421.2 C839.33,421.48 840.67,422.00 842.0,422.0 C843.33,422.00 844.67,419.60 846.0,419.6 C848.00,419.60 850.00,421.20 852.0,421.2 C853.33,421.20 854.67,419.60 856.0,419.6 C857.33,419.60 858.67,420.80 860.0,420.8 C862.00,420.80 864.00,420.44 866.0,420.2 C867.33,420.04 868.67,419.66 870.0,419.6 C873.00,419.47 876.00,419.40 879.0,419.4 C880.17,419.40 881.33,483.60 882.5,483.6 C883.40,483.60 884.30,417.20 885.2,417.2 C887.97,417.20 890.73,421.30 893.5,421.3 C895.33,421.30 897.17,419.00 899.0,419.0 C902.27,419.00 905.53,420.50 908.8,420.5 C910.63,420.50 912.47,419.00 914.3,419.0 C918.00,419.00 921.70,420.43 925.4,421.3 C926.30,421.51 927.20,421.57 928.1,422.0 C929.07,422.46 930.03,431.70 931.0,431.7 C932.33,431.70 933.67,418.50 935.0,418.5 C936.87,418.50 938.73,419.83 940.6,421.3 C942.00,422.40 943.40,428.20 944.8,428.2 C945.70,428.20 946.60,420.60 947.5,420.6 C947.97,420.60 948.43,422.41 948.9,423.4 C949.60,424.89 950.30,428.20 951.0,428.2 C952.17,428.20 953.33,420.29 954.5,420.0 C956.80,419.44 959.10,419.20 961.4,419.2 C962.77,419.20 964.13,422.00 965.5,422.0 C966.90,422.00 968.30,420.60 969.7,420.6 C971.07,420.60 972.43,420.60 973.8,420.6 C974.73,420.60 975.67,475.30 976.6,475.3 C977.53,475.30 978.47,420.60 979.4,420.6 C981.23,420.60 983.07,420.60 984.9,420.6 C985.83,420.60 986.77,433.07 987.7,439.3" fill="none" stroke="#1fa3d4" stroke-width="2.2" stroke-linejoin="round"/>
<line x1="234" y1="409.4" x2="427" y2="409.4" stroke="#3e7d80" stroke-width="2.2"/>
<path d="M763.0,410.2 C768.67,409.87 774.33,409.91 780.0,409.2 C781.33,409.03 782.67,407.20 784.0,407.2 C785.33,407.20 786.67,409.20 788.0,409.2 C802.00,409.20 816.00,409.20 830.0,409.2 C831.67,409.20 833.33,407.60 835.0,407.6 C836.67,407.60 838.33,409.20 840.0,409.2 C843.33,409.20 846.67,409.20 850.0,409.2 C851.67,409.20 853.33,407.60 855.0,407.6 C856.67,407.60 858.33,409.20 860.0,409.2 C869.33,409.20 878.67,409.20 888.0,409.2 C889.00,409.20 890.00,407.80 891.0,407.8 C892.33,407.80 893.67,409.20 895.0,409.2 C905.33,409.20 915.67,409.20 926.0,409.2 C927.33,409.20 928.67,406.80 930.0,406.8 C931.67,406.80 933.33,409.20 935.0,409.2 C950.00,409.20 965.00,409.20 980.0,409.2 C981.33,409.20 982.67,407.60 984.0,407.6 C985.50,407.60 987.00,408.67 988.5,409.2" fill="none" stroke="#d98a2a" stroke-width="2.3" stroke-linejoin="round"/>
<path d="M168.5,408.6 C170.67,408.53 172.83,408.54 175.0,408.4 C176.00,408.34 177.00,407.00 178.0,407.0 C179.00,407.00 180.00,408.60 181.0,408.6 C184.00,408.60 187.00,408.39 190.0,408.2 C192.67,408.03 195.33,407.30 198.0,407.3 C199.33,407.30 200.67,408.40 202.0,408.4 C204.67,408.40 207.33,408.14 210.0,407.8 C211.33,407.63 212.67,406.60 214.0,406.6 C215.33,406.60 216.67,408.28 218.0,408.4 C222.83,408.83 227.67,408.80 232.5,409.0" fill="none" stroke="#dc8226" stroke-width="2.3" stroke-linejoin="round"/>
<path d="M168.5,472.5 C169.67,474.17 170.83,476.37 172.0,477.5 C173.13,478.60 174.27,479.38 175.4,480.0 C179.67,482.34 183.93,483.44 188.2,485.1 C191.63,486.43 195.07,487.53 198.5,489.0 C202.77,490.83 207.03,493.13 211.3,495.4 C214.30,497.00 217.30,498.06 220.3,500.5 C222.00,501.88 223.70,504.15 225.4,507.0 C226.67,509.12 227.93,511.53 229.2,515.9 C230.07,518.89 230.93,528.03 231.8,531.3 C232.67,534.57 233.53,537.73 234.4,538.5 C234.93,538.97 235.47,539.40 236.0,539.4 C306.17,539.40 376.33,539.39 446.5,539.2 C450.93,539.19 455.37,534.20 459.8,534.0 C476.80,533.23 493.80,533.90 510.8,533.0 C512.27,532.92 513.73,530.45 515.2,528.5 C517.07,526.02 518.93,521.06 520.8,517.5 C523.00,513.31 525.20,507.00 527.4,505.3 C528.90,504.14 530.40,503.00 531.9,503.0 C533.73,503.00 535.57,506.80 537.4,506.8 C540.37,506.80 543.33,503.42 546.3,501.5 C549.23,499.61 552.17,497.36 555.1,495.3 C558.80,492.70 562.50,490.41 566.2,487.5 C569.90,484.59 573.60,482.84 577.3,477.6 C578.77,475.52 580.23,471.22 581.7,466.5 C583.20,461.68 584.70,448.94 586.2,446.5 C587.67,444.11 589.13,443.38 590.6,442.1 C593.53,439.55 596.47,438.01 599.4,435.5 C602.37,432.96 605.33,429.83 608.3,426.6 C610.17,424.57 612.03,423.40 613.9,420.0 C615.00,418.00 616.10,412.05 617.2,408.9 C617.53,407.94 617.87,407.19 618.2,406.3 C630.13,374.54 642.07,337.70 654.0,306.5 C655.47,302.67 656.93,300.82 658.4,295.4 C659.77,290.35 661.13,272.90 662.5,267.7 C663.90,262.37 665.30,257.44 666.7,256.6 C668.07,255.78 669.43,255.36 670.8,255.2 C678.20,254.32 685.60,254.96 693.0,253.9 C694.40,253.70 695.80,247.05 697.2,247.0 C711.47,246.46 725.73,246.40 740.0,246.4 C744.07,246.40 748.13,246.40 752.2,246.4 C754.43,246.40 756.67,250.34 758.9,251.0 C762.23,251.99 765.57,252.02 768.9,252.8 C774.07,254.01 779.23,257.39 784.4,258.3 C787.37,258.82 790.33,258.88 793.3,259.4 C797.77,260.18 802.23,262.27 806.7,263.9 C810.40,265.25 814.10,267.13 817.8,268.3 C821.50,269.47 825.20,270.10 828.9,271.2 C832.60,272.30 836.30,273.82 840.0,275.0 C843.70,276.18 847.40,277.18 851.1,278.3 C854.80,279.42 858.50,280.42 862.2,281.7 C865.90,282.98 869.60,284.22 873.3,286.1 C877.00,287.98 880.70,292.03 884.4,293.9 C888.13,295.78 891.87,298.30 895.6,298.3 C897.80,298.30 900.00,298.30 902.2,298.3 C904.43,298.30 906.67,300.40 908.9,301.2 C911.87,302.27 914.83,302.79 917.8,303.9 C921.50,305.28 925.20,307.55 928.9,309.4 C932.60,311.25 936.30,313.36 940.0,315.0 C943.70,316.64 947.40,318.12 951.1,319.4 C954.80,320.68 958.50,322.21 962.2,322.8 C965.53,323.34 968.87,323.12 972.2,323.9 C973.33,324.17 974.47,327.25 975.6,328.3 C977.80,330.33 980.00,331.50 982.2,332.8 C984.30,334.04 986.40,335.00 988.5,336.1" fill="none" stroke="#62b0c8" stroke-width="1" stroke-linejoin="round"/>
<line x1="42.1" y1="640" x2="87.6" y2="640" stroke="#e0a41c" stroke-width="2"/><circle cx="64.6" cy="640" r="10" fill="#fbb400"/>
<line x1="215.2" y1="640" x2="260.7" y2="640" stroke="#c8c8c8" stroke-width="2"/><circle cx="237.7" cy="640" r="10" fill="#cccccc"/>
<line x1="486.0" y1="640" x2="531.5" y2="640" stroke="#c8c8c8" stroke-width="2"/><circle cx="508.5" cy="640" r="10" fill="#cccccc"/>
<line x1="681.3" y1="640" x2="726.8" y2="640" stroke="#d8781e" stroke-width="2"/><circle cx="703.8" cy="640" r="10" fill="#ee7414"/>
<line x1="870.5" y1="640" x2="916.0" y2="640" stroke="#c8c8c8" stroke-width="2"/><circle cx="893" cy="640" r="10" fill="#cccccc"/>
<line x1="42.1" y1="680.3" x2="87.6" y2="680.3" stroke="#2aa0c8" stroke-width="2"/><circle cx="64.6" cy="680.3" r="10" fill="#13a3d3"/>
<line x1="261.3" y1="680.3" x2="306.8" y2="680.3" stroke="#8fd0ea" stroke-width="2"/><circle cx="283.8" cy="680.3" r="10" fill="#9fdcf2"/>
<text x="391.84" y="33.5" font-size="36" font-weight="bold" fill="#0a0a0a" textLength="386.17" lengthAdjust="spacingAndGlyphs" stroke="#0a0a0a" stroke-width="0.7">with Smart Schedule</text>
<text x="49.37" y="128.8" font-size="31" fill="#333333" textLength="85.51" lengthAdjust="spacingAndGlyphs">Power</text>
<text x="848.58" y="128.6" font-size="22" fill="#454545" textLength="112.33" lengthAdjust="spacingAndGlyphs">2024-01-28</text>
<text x="67.28" y="251.5" font-size="23" fill="#4f4f4f" textLength="85.38" lengthAdjust="spacingAndGlyphs" stroke="#ffffff" stroke-width="0.45" stroke-opacity="0.8">6,000 W</text>
<text x="68.11" y="306.0" font-size="23" fill="#4f4f4f" textLength="84.04" lengthAdjust="spacingAndGlyphs" stroke="#ffffff" stroke-width="0.45" stroke-opacity="0.8">4,000 W</text>
<text x="68.09" y="360.5" font-size="23" fill="#4f4f4f" textLength="84.36" lengthAdjust="spacingAndGlyphs" stroke="#ffffff" stroke-width="0.45" stroke-opacity="0.8">2,000 W</text>
<text x="112.35" y="414.8" font-size="23" fill="#4f4f4f" textLength="39.79" lengthAdjust="spacingAndGlyphs" stroke="#ffffff" stroke-width="0.45" stroke-opacity="0.8">0 W</text>
<text x="59.81" y="469.1" font-size="23" fill="#4f4f4f" textLength="92.56" lengthAdjust="spacingAndGlyphs" stroke="#ffffff" stroke-width="0.45" stroke-opacity="0.8">-2,000 W</text>
<text x="59.61" y="523.8" font-size="23" fill="#4f4f4f" textLength="92.76" lengthAdjust="spacingAndGlyphs" stroke="#ffffff" stroke-width="0.45" stroke-opacity="0.8">-4,000 W</text>
<text x="59.40" y="578.3" font-size="23" fill="#4f4f4f" textLength="92.96" lengthAdjust="spacingAndGlyphs" stroke="#ffffff" stroke-width="0.45" stroke-opacity="0.8">-6,000 W</text>
<text x="1005.82" y="251.6" font-size="23" fill="#4f4f4f" textLength="62.69" lengthAdjust="spacingAndGlyphs" stroke="#ffffff" stroke-width="0.45" stroke-opacity="0.8">100 %</text>
<text x="1004.82" y="317.0" font-size="23" fill="#4f4f4f" textLength="51.16" lengthAdjust="spacingAndGlyphs" stroke="#ffffff" stroke-width="0.45" stroke-opacity="0.8">80 %</text>
<text x="1004.70" y="382.4" font-size="23" fill="#4f4f4f" textLength="51.28" lengthAdjust="spacingAndGlyphs" stroke="#ffffff" stroke-width="0.45" stroke-opacity="0.8">60 %</text>
<text x="1005.32" y="447.8" font-size="23" fill="#4f4f4f" textLength="50.66" lengthAdjust="spacingAndGlyphs" stroke="#ffffff" stroke-width="0.45" stroke-opacity="0.8">40 %</text>
<text x="1004.70" y="513.2" font-size="23" fill="#4f4f4f" textLength="51.28" lengthAdjust="spacingAndGlyphs" stroke="#ffffff" stroke-width="0.45" stroke-opacity="0.8">20 %</text>
<text x="1004.95" y="578.6" font-size="23" fill="#4f4f4f" textLength="38.38" lengthAdjust="spacingAndGlyphs" stroke="#ffffff" stroke-width="0.45" stroke-opacity="0.8">0 %</text>
<text x="96.80" y="645.5" font-size="23" fill="#3c3c3c" textLength="98.17" lengthAdjust="spacingAndGlyphs" stroke="#ffffff" stroke-width="0.45" stroke-opacity="0.8">PV Power</text>
<text x="269.00" y="645.5" font-size="23" fill="#d2d2d2" textLength="198.94" lengthAdjust="spacingAndGlyphs" stroke="#ffffff" stroke-width="0.45" stroke-opacity="0.8">AC Power(On-grid)</text>
<text x="539.14" y="645.5" font-size="23" fill="#d2d2d2" textLength="121.63" lengthAdjust="spacingAndGlyphs" stroke="#ffffff" stroke-width="0.45" stroke-opacity="0.8">Load Power</text>
<text x="736.08" y="645.5" font-size="23" fill="#3c3c3c" textLength="114.32" lengthAdjust="spacingAndGlyphs" stroke="#ffffff" stroke-width="0.45" stroke-opacity="0.8">Grid Power</text>
<text x="923.63" y="645.5" font-size="23" fill="#d2d2d2" textLength="208.50" lengthAdjust="spacingAndGlyphs" stroke="#ffffff" stroke-width="0.45" stroke-opacity="0.8">EPS Power(Off-grid)</text>
<text x="96.62" y="685.8" font-size="23" fill="#3c3c3c" textLength="145.21" lengthAdjust="spacingAndGlyphs" stroke="#ffffff" stroke-width="0.45" stroke-opacity="0.8">Battery Power</text>
<text x="316.67" y="685.6" font-size="23" fill="#3c3c3c" textLength="121.18" lengthAdjust="spacingAndGlyphs" stroke="#ffffff" stroke-width="0.45" stroke-opacity="0.8">Battery SoC</text>
<text x="139.98" y="603.8" font-size="23" fill="#3a3a3a" textLength="57.09" lengthAdjust="spacingAndGlyphs" stroke="#ffffff" stroke-width="0.45" stroke-opacity="0.8">00:00</text>
<text x="214.41" y="603.8" font-size="23" fill="#3a3a3a" textLength="57.09" lengthAdjust="spacingAndGlyphs" stroke="#ffffff" stroke-width="0.45" stroke-opacity="0.8">02:10</text>
<text x="288.84" y="603.8" font-size="23" fill="#3a3a3a" textLength="57.09" lengthAdjust="spacingAndGlyphs" stroke="#ffffff" stroke-width="0.45" stroke-opacity="0.8">04:20</text>
<text x="363.27" y="603.8" font-size="23" fill="#3a3a3a" textLength="57.09" lengthAdjust="spacingAndGlyphs" stroke="#ffffff" stroke-width="0.45" stroke-opacity="0.8">06:30</text>
<text x="437.70" y="603.8" font-size="23" fill="#3a3a3a" textLength="57.09" lengthAdjust="spacingAndGlyphs" stroke="#ffffff" stroke-width="0.45" stroke-opacity="0.8">08:40</text>
<text x="511.24" y="603.8" font-size="23" fill="#3a3a3a" textLength="58.00" lengthAdjust="spacingAndGlyphs" stroke="#ffffff" stroke-width="0.45" stroke-opacity="0.8">10:50</text>
<text x="585.67" y="603.8" font-size="23" fill="#3a3a3a" textLength="58.00" lengthAdjust="spacingAndGlyphs" stroke="#ffffff" stroke-width="0.45" stroke-opacity="0.8">13:05</text>
<text x="660.10" y="603.8" font-size="23" fill="#3a3a3a" textLength="58.00" lengthAdjust="spacingAndGlyphs" stroke="#ffffff" stroke-width="0.45" stroke-opacity="0.8">15:15</text>
<text x="734.53" y="603.8" font-size="23" fill="#3a3a3a" textLength="58.00" lengthAdjust="spacingAndGlyphs" stroke="#ffffff" stroke-width="0.45" stroke-opacity="0.8">17:25</text>
<text x="808.96" y="603.8" font-size="23" fill="#3a3a3a" textLength="58.00" lengthAdjust="spacingAndGlyphs" stroke="#ffffff" stroke-width="0.45" stroke-opacity="0.8">19:35</text>
<text x="884.03" y="603.8" font-size="23" fill="#3a3a3a" textLength="57.35" lengthAdjust="spacingAndGlyphs" stroke="#ffffff" stroke-width="0.45" stroke-opacity="0.8">21:45</text>
<text x="958.83" y="603.8" font-size="23" fill="#3a3a3a" textLength="57.35" lengthAdjust="spacingAndGlyphs" stroke="#ffffff" stroke-width="0.45" stroke-opacity="0.8">23:55</text>
</svg></body></html>
